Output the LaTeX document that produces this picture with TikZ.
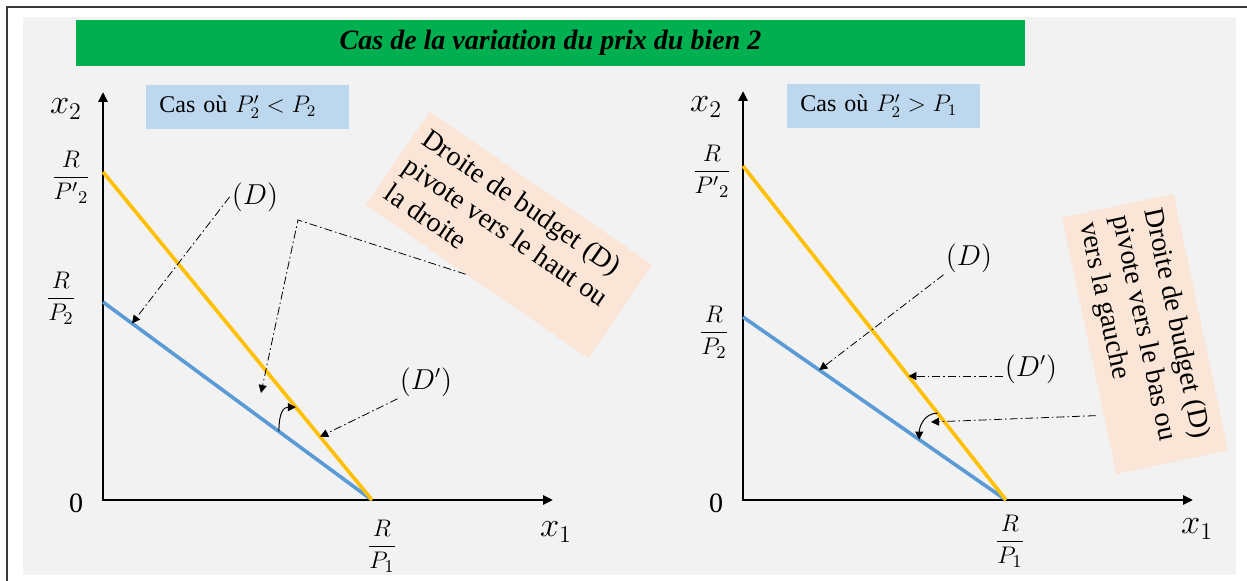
\documentclass[tikz,border=0pt]{standalone}
\usepackage{amsmath}
\usepackage{fontspec}
\setmainfont{Liberation Serif}
\usetikzlibrary{arrows.meta, positioning, calc}
\definecolor{panelfill}{HTML}{F2F2F2}
\definecolor{framecol}{HTML}{3A3A3A}
\definecolor{titlefill}{HTML}{00B050}
\definecolor{casfill}{HTML}{BDD7EE}
\definecolor{notefill}{HTML}{FBE5D6}
\definecolor{oldline}{HTML}{5B9BD5}
\definecolor{newline}{HTML}{FFC000}
\tikzset{
  axisline/.style = {line width=1.3pt, {Triangle[length=5pt,width=4.5pt]}-{Triangle[length=5pt,width=4.5pt]}},
  budget/.style   = {line width=1.8pt},
  leader/.style   = {line width=0.4pt, dash pattern=on 4pt off 1.5pt on 0.8pt off 1.5pt,
                     -{Triangle[length=4pt,width=4pt]}},
  pivotarr/.style = {line width=0.5pt, -{Triangle[length=4pt,width=4pt]}},
  titlebar/.style = {fill=titlefill, minimum width=474.5pt, minimum height=23pt, inner sep=0pt,
                     font=\fontsize{14}{17}\selectfont\bfseries\itshape},
  casbox/.style   = {fill=casfill, anchor=west, minimum height=22pt, inner xsep=6.5pt, align=left,
                     font=\fontsize{12}{14}\selectfont},
  notebox/.style  = {fill=notefill, inner sep=0pt},
  notetxt/.style  = {anchor=north west, align=left, inner xsep=5pt, inner ysep=6pt,
                     font=\fontsize{14}{16.5}\selectfont},
  axlbl/.style    = {font=\fontsize{17}{20}\selectfont, inner sep=0pt},
  fraclbl/.style  = {font=\fontsize{12.5}{15}\selectfont, inner sep=0pt},
  numlbl/.style   = {font=\fontsize{14}{16}\selectfont, inner sep=0pt},
  dlbl/.style     = {font=\fontsize{13.5}{16}\selectfont, inner sep=1pt},
}

\begin{document}
\begin{tikzpicture}[x=0.5pt, y=-0.5pt]
	\useasboundingbox (0,0) rectangle (1247,581);
	\fill[panelfill] (23,17) rectangle (1236,575);
	\draw[framecol, line width=1pt] (7,581) |- (1247,7);
	\node[titlebar] (title) at (550.5,43) {Cas de la variation du prix du bien 2};

	% --- gauche : P'2 < P2
	\coordinate (yendL) at (103,92);
	\coordinate (xendL) at (553,500);
	\coordinate (AL) at (103,172);
	\coordinate (BL) at (103,302);
	\coordinate (CL) at (372,500);
	\draw[axisline] (yendL) |- (xendL);
	\draw[budget, oldline] (BL) -- (CL);
	\draw[budget, newline] (AL) -- (CL);
	\node[axlbl] (x2L) at (66,109) {$x_2$};
	\node[axlbl] (x1L) at (556,532) {$x_1$};
	\node[numlbl] (zeroL) at (76,503) {0};
	\node[fraclbl] (fAL) at (71,177) {$\dfrac{R}{{P'}_2}$};
	\node[fraclbl] (fBL) at (61,298) {$\dfrac{R}{P_2}$};
	\node[fraclbl] (fCL) at (382,546) {$\dfrac{R}{P_1}$};
	\node[casbox, text width=88.5pt] (casL) at (146,107) {Cas où $P_2' < P_2$};
	\node[notebox, rotate=-34.5, minimum width=135pt, minimum height=56.5pt] (noteL) at (509,235) {};
	\node[notetxt, rotate=-34.5] (noteLtxt) at (noteL.north west) {Droite de budget (D)\\pivote vers le haut ou\\la droite};
	\node[dlbl] (dL) at (255,197) {$(D)$};
	\node[dlbl] (dpL) at (426,382) {$(D')$};
	\coordinate (tdL) at ($(BL)!0.108!(CL)$);
	\coordinate (tdpL) at ($(AL)!0.807!(CL)$);
	\coordinate (bendL) at (298,220);
	\coordinate (tnL) at (261,393);
	\coordinate (pbL) at ($(BL)!0.654!(CL)$);
	\coordinate (paL) at ($(AL)!0.717!(CL)$);
	\draw[leader] (dL.west) -- (tdL);
	\draw[leader] (dpL.south west) -- (tdpL);
	\draw[leader] ($(noteL.south west)!0.45!(noteL.south east)$) -- (bendL) -- (tnL);
	\draw[pivotarr] (pbL) .. controls ($(pbL)+(0,-20)$) and ($(paL)+(-12,0)$) .. (paL);

	% --- droite : P'2 > P1
	\coordinate (yendR) at (743,91);
	\coordinate (xendR) at (1193,500);
	\coordinate (AR) at (743,166);
	\coordinate (BR) at (743,317);
	\coordinate (CR) at (1006,500);
	\draw[axisline] (yendR) |- (xendR);
	\draw[budget, oldline] (BR) -- (CR);
	\draw[budget, newline] (AR) -- (CR);
	\node[axlbl] (x2R) at (706,107) {$x_2$};
	\node[axlbl] (x1R) at (1197,529) {$x_1$};
	\node[numlbl] (zeroR) at (716,503) {0};
	\node[fraclbl] (fAR) at (712,171) {$\dfrac{R}{{P'}_2}$};
	\node[fraclbl] (fBR) at (714,332) {$\dfrac{R}{P_2}$};
	\node[fraclbl] (fCR) at (1010,541) {$\dfrac{R}{P_1}$};
	\node[casbox, text width=83.5pt] (casR) at (787,106) {Cas où $P_2' > P_1$};
	\node[notebox, rotate=-78, minimum width=131pt, minimum height=57pt] (noteR) at (1145,334) {};
	\node[notetxt, rotate=-78] (noteRtxt) at (noteR.north west) {Droite de budget (D)\\pivote vers le bas ou\\vers la gauche};
	\node[dlbl] (dR) at (969,258) {$(D)$};
	\node[dlbl] (dpR) at (1031,369) {$(D')$};
	\coordinate (tdR) at ($(BR)!0.29!(CR)$);
	\coordinate (tdpR) at ($(AR)!0.629!(CR)$);
	\coordinate (tnR) at (931,422);
	\coordinate (paR) at ($(AR)!0.74!(CR)$);
	\coordinate (pbR) at ($(BR)!0.67!(CR)$);
	\draw[leader] (dR.south west) -- (tdR);
	\draw[leader] (dpR.west |- tdpR) -- (tdpR);
	\draw[leader, shorten <=4pt] ($(noteR.south west)!0.77!(noteR.south east)$) -- (tnR);
	\draw[pivotarr] (paR) .. controls ($(paR)+(-14,0)$) and ($(pbR)+(0,-12)$) .. (pbR);
\end{tikzpicture}
\end{document}
